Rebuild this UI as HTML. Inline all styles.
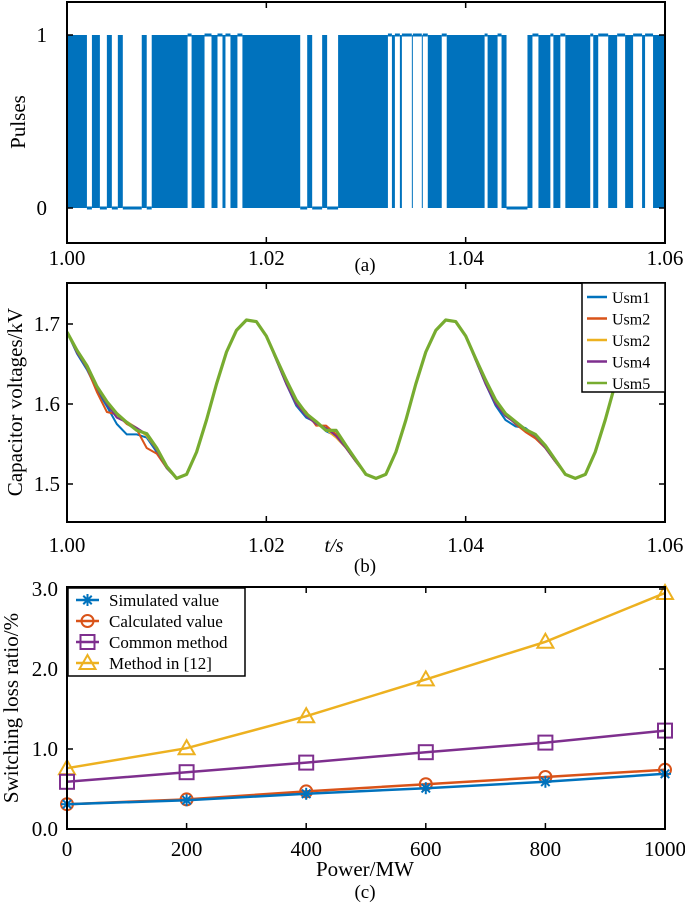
<!DOCTYPE html>
<html><head><meta charset="utf-8"><style>
body{margin:0;background:#fff}
svg{display:block;font-family:"Liberation Serif",serif}
</style></head><body>
<svg id="fig" width="685" height="903" viewBox="0 0 685 903">
<g id="pa"></g>
<g id="pb"></g>
<g id="pc"></g>
</svg>
<script>
// ---- Panel (a) data: intervals of constant level (white gaps); rest is dense switching
const gapStart=[1.0020,1.0033,1.0045,1.0056,1.0080,1.0121,1.0138,1.0151,1.0159,1.0171,1.0234,1.0246,1.0261,1.0322,1.0329,1.0336,1.0347,1.0357,1.0376,1.0419,1.0432,1.0441,1.0467,1.0485,1.0495,1.0525,1.0533,1.0552,1.0568,1.0580];
const gapEnd=[1.0025,1.0040,1.0051,1.0075,1.0085,1.0125,1.0145,1.0156,1.0164,1.0176,1.0241,1.0256,1.0272,1.0326,1.0334,1.0346,1.0356,1.0362,1.0381,1.0422,1.0436,1.0462,1.0473,1.0488,1.0500,1.0528,1.0543,1.0560,1.0577,1.0588];
const gapLevel=[0,0,0,0,0,1,1,1,1,1,0,0,0,1,1,1,1,1,1,1,1,0,1,1,1,1,1,1,1,1];
const timeTicks=[1.00,1.02,1.04,1.06];
// ---- Panel (b) data (kV, sampled every 1 ms from 1.000 to 1.060)
const usmLabels=["Usm1","Usm2","Usm2","Usm4","Usm5"];
const usm1=[1.690,1.663,1.643,1.618,1.597,1.575,1.562,1.562,1.558,1.540,1.520,1.507,1.512,1.540,1.580,1.625,1.665,1.692,1.705,1.703,1.685,1.655,1.625,1.598,1.583,1.577,1.566,1.560,1.545,1.528,1.512,1.507,1.512,1.540,1.580,1.625,1.665,1.692,1.705,1.703,1.685,1.655,1.625,1.598,1.580,1.572,1.570,1.560,1.545,1.528,1.512,1.507,1.512,1.540,1.580,1.625,1.665,1.692,1.705,1.703,1.685];
const usm2=[1.690,1.665,1.645,1.615,1.590,1.587,1.575,1.568,1.545,1.538,1.520,1.507,1.512,1.540,1.580,1.625,1.665,1.692,1.705,1.703,1.685,1.655,1.628,1.603,1.590,1.573,1.573,1.562,1.545,1.528,1.512,1.507,1.512,1.540,1.580,1.625,1.665,1.692,1.705,1.703,1.685,1.655,1.627,1.603,1.587,1.575,1.565,1.557,1.545,1.528,1.512,1.507,1.512,1.540,1.580,1.625,1.665,1.692,1.705,1.703,1.685];
const usm3=[1.690,1.666,1.647,1.622,1.602,1.585,1.578,1.570,1.560,1.543,1.522,1.507,1.512,1.540,1.580,1.625,1.665,1.692,1.705,1.703,1.685,1.656,1.626,1.600,1.586,1.575,1.568,1.558,1.545,1.528,1.512,1.507,1.512,1.540,1.580,1.625,1.665,1.692,1.705,1.703,1.685,1.656,1.628,1.602,1.585,1.577,1.568,1.560,1.545,1.528,1.512,1.507,1.512,1.540,1.580,1.625,1.665,1.692,1.705,1.703,1.685];
const usm4=[1.690,1.664,1.646,1.620,1.600,1.583,1.577,1.570,1.562,1.542,1.520,1.507,1.512,1.540,1.580,1.625,1.665,1.692,1.705,1.703,1.685,1.655,1.625,1.600,1.585,1.575,1.570,1.560,1.545,1.528,1.512,1.507,1.512,1.540,1.580,1.625,1.665,1.692,1.705,1.703,1.685,1.655,1.625,1.600,1.585,1.576,1.568,1.560,1.545,1.528,1.512,1.507,1.512,1.540,1.580,1.625,1.665,1.692,1.705,1.703,1.685];
const usm5=[1.690,1.667,1.648,1.622,1.603,1.588,1.577,1.567,1.563,1.545,1.522,1.507,1.512,1.540,1.580,1.625,1.665,1.692,1.705,1.703,1.685,1.657,1.630,1.605,1.588,1.578,1.567,1.567,1.548,1.530,1.512,1.507,1.512,1.540,1.580,1.625,1.665,1.692,1.705,1.703,1.685,1.657,1.630,1.605,1.588,1.578,1.568,1.562,1.548,1.530,1.512,1.507,1.512,1.540,1.580,1.625,1.665,1.692,1.705,1.703,1.685];
const voltTicks=[1.5,1.6,1.7];
// ---- Panel (c) data
const powerMW=[0,200,400,600,800,1000];
const simulated=[0.31,0.36,0.44,0.51,0.59,0.69];
const calculated=[0.31,0.37,0.47,0.56,0.65,0.74];
const commonMethod=[0.59,0.71,0.83,0.96,1.08,1.23];
const method12=[0.76,1.01,1.41,1.87,2.34,2.95];
const lossTicks=[0,1,2,3];
const lossTickLabels=["0.0","1.0","2.0","3.0"];
const powerTicks=[0,200,400,600,800,1000];

const NS="http://www.w3.org/2000/svg";
function mk(parent,tag,attrs,text){const e=document.createElementNS(NS,tag);for(const k in attrs)e.setAttribute(k,attrs[k]);if(text!==undefined)e.textContent=text;parent.appendChild(e);return e;}
const C=["#0072BD","#D95319","#EDB120","#7E2F8E","#77AC30"];
const L=67,R=665;

// ===== Panel A =====
(function(){
 const g=document.getElementById('pa');const T=2,B=243;
 const x=t=>L+(t-1.00)/0.06*(R-L);const y=v=>208-v*(208-35);
 let r=mk(g,'rect',{x:L,y:y(1),width:R-L,height:y(0)-y(1),fill:C[0]});
 
 for(let i=0;i<gapStart.length;i++){
  const x0=x(gapStart[i]),x1=x(gapEnd[i]);
  let w=mk(g,'rect',{x:x0,y:y(1)-1,width:x1-x0,height:y(0)-y(1)+2,fill:'#fff'});
  
  mk(g,'line',{x1:x0,x2:x1,y1:y(gapLevel[i]),y2:y(gapLevel[i]),stroke:C[0],'stroke-width':3});
 }
 mk(g,'rect',{x:L,y:T,width:R-L,height:B-T,fill:'none',stroke:'#000','stroke-width':2});
 timeTicks.forEach(t=>{mk(g,'line',{x1:x(t),x2:x(t),y1:B,y2:B-6,stroke:'#000','stroke-width':1.5});mk(g,'line',{x1:x(t),x2:x(t),y1:T,y2:T+6,stroke:'#000','stroke-width':1.5});
  let tx=mk(g,'text',{x:x(t),y:265,'font-size':21,'text-anchor':'middle'},t.toFixed(2));});
 [0,1].forEach(v=>{mk(g,'line',{x1:L,x2:L+6,y1:y(v),y2:y(v),stroke:'#000','stroke-width':1.5});mk(g,'line',{x1:R,x2:R-6,y1:y(v),y2:y(v),stroke:'#000','stroke-width':1.5});
  let tx=mk(g,'text',{x:47,y:y(v)+7,'font-size':21,'text-anchor':'end'},String(v));});
 let yt=mk(g,'text',{transform:'translate(25,122) rotate(-90)','font-size':21,'text-anchor':'middle'},'Pulses');
 let cap=mk(g,'text',{x:365,y:271,'font-size':19,'text-anchor':'middle'},'(a)');
})();

// ===== Panel B =====
(function(){
 const g=document.getElementById('pb');const T=283,B=522;
 const x=t=>L+(t-1.00)/0.06*(R-L);const y=v=>484-(v-1.5)/0.1*80;
 const clip=mk(g,'clipPath',{id:'cb'});
 mk(clip,'rect',{x:L,y:T,width:R-L,height:B-T});
 const series=[usm1,usm2,usm3,usm4,usm5];
 series.forEach((s,k)=>{const pts=s.map((v,i)=>x(1+i*0.001).toFixed(1)+','+y(v).toFixed(1)).join(' ');
  let p=mk(g,'polyline',{points:pts,fill:'none',stroke:C[k],'stroke-width':k==4?3.2:2,'clip-path':'url(#cb)','stroke-linejoin':'round'});
  });
 mk(g,'rect',{x:L,y:T,width:R-L,height:B-T,fill:'none',stroke:'#000','stroke-width':2});
 timeTicks.forEach(t=>{mk(g,'line',{x1:x(t),x2:x(t),y1:B,y2:B-6,stroke:'#000','stroke-width':1.5});mk(g,'line',{x1:x(t),x2:x(t),y1:T,y2:T+6,stroke:'#000','stroke-width':1.5});
  let tx=mk(g,'text',{x:x(t),y:552,'font-size':21,'text-anchor':'middle'},t.toFixed(2));});
 voltTicks.forEach(v=>{mk(g,'line',{x1:L,x2:L+6,y1:y(v),y2:y(v),stroke:'#000','stroke-width':1.5});mk(g,'line',{x1:R,x2:R-6,y1:y(v),y2:y(v),stroke:'#000','stroke-width':1.5});
  let tx=mk(g,'text',{x:60,y:y(v)+7,'font-size':21,'text-anchor':'end'},v.toFixed(1));});
 let yt=mk(g,'text',{transform:'translate(22,402) rotate(-90)','font-size':21,'text-anchor':'middle'},'Capacitor voltages/kV');
 let xt=mk(g,'text',{x:334,y:552,'font-size':20,'text-anchor':'middle','font-style':'italic'},'t/s');
 let cap=mk(g,'text',{x:365,y:572,'font-size':19,'text-anchor':'middle'},'(b)');
 const lg=mk(g,'g',{});
 mk(lg,'rect',{x:582,y:283,width:83,height:109,fill:'#fff',stroke:'#000','stroke-width':1.5});
 usmLabels.forEach((n,k)=>{const yy=297+k*21.5;
  const e=mk(lg,'g',{});
  mk(e,'line',{x1:587,x2:607,y1:yy,y2:yy,stroke:C[k],'stroke-width':2.5});
  mk(e,'text',{x:612,y:yy+6,'font-size':16},n);});
})();

// ===== Panel C =====
(function(){
 const g=document.getElementById('pc');const T=587,B=829;
 const x=p=>L+p/1000*(R-L);const y=v=>B-v/3*(B-589);
 const sets=[[simulated,C[0],'star','Simulated value'],[calculated,C[1],'circle','Calculated value'],[commonMethod,C[3],'square','Common method'],[method12,C[2],'tri','Method in [12]']];
 function marker(par,type,cx,cy,col){
  if(type=='circle')mk(par,'circle',{cx,cy,r:6,fill:'none',stroke:col,'stroke-width':2});
  else if(type=='square')mk(par,'rect',{x:cx-7,y:cy-7,width:14,height:14,fill:'none',stroke:col,'stroke-width':2});
  else if(type=='tri')mk(par,'polygon',{points:`${cx},${cy-8} ${cx-8},${cy+6} ${cx+8},${cy+6}`,fill:'none',stroke:col,'stroke-width':2});
  else{for(let a=0;a<180;a+=45){const r=a*Math.PI/180;mk(par,'line',{x1:cx-6*Math.cos(r),y1:cy-6*Math.sin(r),x2:cx+6*Math.cos(r),y2:cy+6*Math.sin(r),stroke:col,'stroke-width':2});}}
 }
 [3,2,1,0].forEach(k=>{const s=sets[k];const sg=mk(g,'g',{});
  
  mk(sg,'polyline',{points:s[0].map((v,i)=>x(powerMW[i])+','+y(v)).join(' '),fill:'none',stroke:s[1],'stroke-width':2.5});
  s[0].forEach((v,i)=>marker(sg,s[2],x(powerMW[i]),y(v),s[1]));});
 mk(g,'rect',{x:L,y:T,width:R-L,height:B-T,fill:'none',stroke:'#000','stroke-width':2});
 powerTicks.forEach(p=>{mk(g,'line',{x1:x(p),x2:x(p),y1:B,y2:B-6,stroke:'#000','stroke-width':1.5});mk(g,'line',{x1:x(p),x2:x(p),y1:T,y2:T+6,stroke:'#000','stroke-width':1.5});
  let tx=mk(g,'text',{x:x(p),y:856,'font-size':21,'text-anchor':'middle'},String(p));});
 lossTicks.forEach((v,i)=>{mk(g,'line',{x1:L,x2:L+6,y1:y(v),y2:y(v),stroke:'#000','stroke-width':1.5});mk(g,'line',{x1:R,x2:R-6,y1:y(v),y2:y(v),stroke:'#000','stroke-width':1.5});
  let tx=mk(g,'text',{x:58,y:y(v)+7,'font-size':21,'text-anchor':'end'},lossTickLabels[i]);});
 let yt=mk(g,'text',{transform:'translate(18,708) rotate(-90)','font-size':21,'text-anchor':'middle'},'Switching loss ratio/%');
 let xt=mk(g,'text',{x:365,y:876,'font-size':21,'text-anchor':'middle'},'Power/MW');
 let cap=mk(g,'text',{x:365,y:898,'font-size':19,'text-anchor':'middle'},'(c)');
 const lg=mk(g,'g',{});
 mk(lg,'rect',{x:68,y:588,width:177,height:88,fill:'#fff',stroke:'#000','stroke-width':1.5});
 sets.forEach((s,k)=>{const yy=600+k*21;const e=mk(lg,'g',{});
  
  mk(e,'line',{x1:76,x2:99,y1:yy,y2:yy,stroke:s[1],'stroke-width':2.5});
  marker(e,s[2],87.5,yy,s[1]);
  mk(e,'text',{x:109,y:yy+6,'font-size':17},s[3]);});
})();
</script>
</body></html>
